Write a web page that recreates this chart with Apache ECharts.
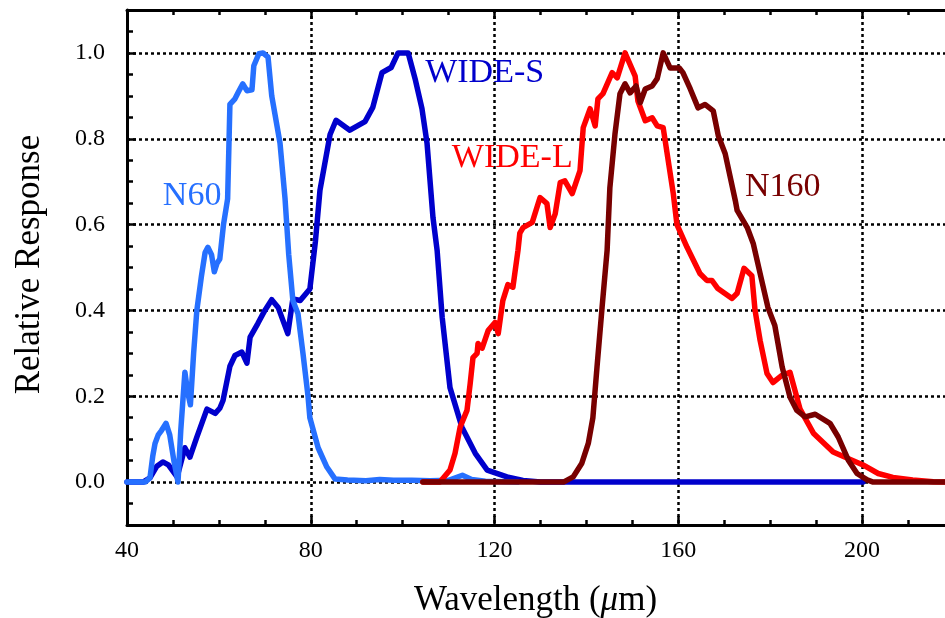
<!DOCTYPE html>
<html>
<head>
<meta charset="utf-8">
<title>Relative Response</title>
<script src="https://cdn.jsdelivr.net/npm/echarts@6/dist/echarts.min.js"></script>
<style>
  html, body { margin: 0; padding: 0; background: #ffffff; }
  #chart { width: 945px; height: 618px; }
</style>
</head>
<body>
<div id="chart"></div>
<script>
// Filter response curves: [wavelength (µm), relative response]
const n60 = [
  [40, 0], [44, 0], [45, 0.01], [45.6, 0.06], [46.1, 0.09], [46.8, 0.11], [47.5, 0.12],
  [48.5, 0.137], [49.3, 0.11], [50.2, 0.05], [51.1, 0.0], [51.7, 0.12], [52.6, 0.256],
  [53.2, 0.21], [53.8, 0.18], [54.5, 0.3], [55.2, 0.4], [56.2, 0.48], [57, 0.535],
  [57.6, 0.547], [58.4, 0.53], [59, 0.49], [59.6, 0.51], [60.2, 0.52], [61, 0.6],
  [61.9, 0.66], [62.4, 0.88], [63.5, 0.893], [64.3, 0.91], [65.2, 0.928], [66.1, 0.912],
  [67.2, 0.914], [67.6, 0.97], [68.7, 0.998], [69.6, 1.0], [70.7, 0.99], [71.5, 0.9],
  [73.3, 0.79], [74.4, 0.66], [75.2, 0.53], [76.1, 0.423], [77.2, 0.393], [78.3, 0.3],
  [79.4, 0.2], [79.8, 0.15], [81.6, 0.08], [83.5, 0.035], [85.3, 0.007], [88, 0.005],
  [92, 0.003], [95, 0.006], [98, 0.004], [102, 0.004], [106, 0.003], [110, 0.004],
  [113, 0.016], [115, 0.006], [118, 0.002], [125, 0]
];

const wideS = [
  [40, 0], [43.5, 0], [45, 0.01], [46.5, 0.037], [47.8, 0.047], [49, 0.04], [50.9, 0.012],
  [52.6, 0.08], [53.7, 0.058], [55.2, 0.105], [57.4, 0.17], [59.2, 0.16], [60.2, 0.172],
  [60.9, 0.19], [62.4, 0.27], [63.5, 0.295], [65, 0.303], [66.1, 0.277], [66.8, 0.338],
  [68.5, 0.37], [70, 0.4], [71.5, 0.425], [72.9, 0.407], [75, 0.346], [76.1, 0.427],
  [77.7, 0.423], [79.8, 0.45], [81, 0.56], [82, 0.68], [84.2, 0.81], [85.5, 0.843],
  [88.5, 0.82], [91.8, 0.84], [93.5, 0.873], [95.5, 0.954], [97.5, 0.966], [99, 1.0],
  [101.2, 1.0], [102.7, 0.94], [104.2, 0.87], [105.3, 0.79], [106.6, 0.616], [107.5, 0.54],
  [108.6, 0.384], [110.3, 0.22], [112.9, 0.128], [115.8, 0.067], [118.4, 0.028],
  [122.7, 0.012], [126.2, 0.004], [130, 0], [200.2, 0]
];

const wideL = [
  [104.4, 0], [108.1, 0], [110.3, 0.028], [111.4, 0.067], [112.5, 0.128], [114, 0.167],
  [114.7, 0.23], [115.3, 0.29], [116.2, 0.3], [116.4, 0.323], [117.3, 0.312], [118.6, 0.353],
  [120.1, 0.372], [120.8, 0.346], [121.8, 0.423], [122.9, 0.46], [124, 0.454], [125.1, 0.54],
  [125.5, 0.58], [126.2, 0.593], [128.2, 0.605], [129.9, 0.663], [131.4, 0.649],
  [132.1, 0.593], [133.2, 0.625], [134.3, 0.698], [135.3, 0.702], [136.9, 0.672],
  [138.6, 0.726], [139.3, 0.826], [140.8, 0.87], [141.9, 0.83], [142.5, 0.893],
  [143.6, 0.905], [145.6, 0.954], [146.7, 0.942], [148.4, 1.0], [150.6, 0.946],
  [151.2, 0.888], [152.8, 0.842], [154.3, 0.849], [155.4, 0.83], [156.7, 0.826],
  [158.9, 0.672], [159.7, 0.6], [161.9, 0.547], [164.7, 0.486], [166.2, 0.47],
  [167.3, 0.47], [168.6, 0.451], [171.7, 0.428], [172.8, 0.44], [174.3, 0.498],
  [176, 0.481], [176.7, 0.4], [177.8, 0.33], [179.3, 0.253], [180.6, 0.232],
  [182.6, 0.249], [184.3, 0.256], [186.5, 0.17], [189.4, 0.114], [193.7, 0.07],
  [196.7, 0.056], [200.2, 0.04], [203.5, 0.02], [206.7, 0.011], [211, 0.005],
  [215.5, 0.001], [220, 0]
];

const n160 = [
  [104.4, 0], [135, 0], [137.1, 0.012], [139, 0.044], [140.4, 0.09], [141.4, 0.15],
  [142.3, 0.268], [143.4, 0.407], [144.5, 0.54], [145.1, 0.686], [146.2, 0.81],
  [147.3, 0.905], [148.4, 0.928], [149.5, 0.907], [150.8, 0.923], [151.7, 0.884],
  [152.8, 0.916], [154.3, 0.923], [155.4, 0.94], [156.7, 1.0], [158.2, 0.965],
  [160.2, 0.965], [161, 0.954], [162.6, 0.916], [164.3, 0.872], [165.8, 0.88],
  [167.6, 0.865], [168.7, 0.807], [170.2, 0.765], [172.4, 0.656], [172.8, 0.633],
  [175, 0.593], [176.3, 0.556], [177.8, 0.486], [179.5, 0.407], [181, 0.365],
  [182.6, 0.268], [184.3, 0.198], [185.8, 0.167], [187.6, 0.152], [189.8, 0.158],
  [193, 0.137], [194.8, 0.105], [197, 0.051], [198.9, 0.02], [201.1, 0.005],
  [202.4, 0], [220, 0]
];

// Curve names, colours and where their labels sit (data coordinates)
const seriesNames = ['WIDE-S', 'N60', 'WIDE-L', 'N160'];
const seriesColors = ['#0000cc', '#2670ff', '#ff0000', '#780000'];
const seriesData = [wideS, n60, wideL, n160];
const labelAnchors = [[104.9, 0.954], [47.8, 0.667], [110.7, 0.754], [174.5, 0.688]];

const xTickLabels = [40, 80, 120, 160, 200];

const FONT = '"Liberation Serif", "DejaVu Serif", serif';

const chart = echarts.init(document.getElementById('chart'), null, { renderer: 'canvas' });

const dotted = { color: '#000', width: 2.5, type: [3, 3] };
const axisLine = { show: true, onZero: false, lineStyle: { color: '#000', width: 3 } };

const xCommon = {
  type: 'value',
  min: 40,
  max: 220,
  interval: 40,
  axisLine: axisLine,
  axisTick: { show: true, inside: true, length: 9, lineStyle: { color: '#000', width: 2.5 } },
  minorTick: { show: true, splitNumber: 4, length: 5, lineStyle: { color: '#000', width: 2.5 } }
};

const option = {
  animation: false,
  backgroundColor: '#ffffff',
  grid: {
    left: 127, right: -9, top: 10, bottom: 93,
    containLabel: false,
    outerBoundsMode: 'none'
  },
  xAxis: [
    Object.assign({}, xCommon, {
      position: 'bottom',
      name: '{n|Wavelength (}{mu|μ}{n|m)}',
      nameLocation: 'middle',
      nameGap: 58,
      nameTextStyle: {
        padding: [0, 10, 0, 0],
        rich: {
          n: { fontFamily: FONT, fontSize: 35, color: '#000' },
          mu: { fontFamily: FONT, fontSize: 35, fontStyle: 'italic', color: '#000' }
        }
      },
      axisLabel: {
        show: true, margin: 14, color: '#000', fontFamily: FONT, fontSize: 24,
        showMaxLabel: false,
        formatter: v => (xTickLabels.indexOf(v) >= 0 ? String(v) : '')
      },
      splitLine: { show: true, lineStyle: dotted }
    }),
    Object.assign({}, xCommon, {
      position: 'top',
      axisLabel: { show: false },
      splitLine: { show: false }
    })
  ],
  yAxis: [
    {
      type: 'value',
      min: -0.1,
      max: 1.1,
      splitNumber: 5,
      position: 'left',
      name: 'Relative Response',
      nameLocation: 'middle',
      nameGap: 80,
      nameTextStyle: { fontFamily: FONT, fontSize: 35, color: '#000', padding: [0, 0, 0, 6] },
      axisLine: axisLine,
      axisTick: { show: true, inside: true, length: 9, lineStyle: { color: '#000', width: 2.5 } },
      axisLabel: {
        show: true, margin: 22, color: '#000', fontFamily: FONT, fontSize: 24,
        showMinLabel: false, showMaxLabel: false,
        formatter: v => v.toFixed(1)
      },
      splitLine: { show: true, lineStyle: dotted }
    },
    {
      // finer inward ticks every 0.05 along the left edge
      type: 'value',
      min: -0.1,
      max: 1.1,
      interval: 0.05,
      position: 'left',
      axisLine: { show: false },
      axisTick: { show: true, inside: true, length: 6, lineStyle: { color: '#000', width: 2.5 } },
      axisLabel: { show: false },
      splitLine: { show: false }
    }
  ],
  series: seriesNames.map((name, i) => ({
    name: name,
    type: 'line',
    data: seriesData[i],
    xAxisIndex: 0,
    yAxisIndex: 0,
    showSymbol: false,
    symbol: 'none',
    smooth: false,
    clip: true,
    lineStyle: { color: seriesColors[i], width: 5.5, cap: 'round', join: 'round' },
    markPoint: {
      symbol: 'circle',
      symbolSize: 0,
      silent: true,
      data: [{
        coord: labelAnchors[i],
        label: {
          show: true,
          position: 'inside',
          align: 'left',
          verticalAlign: 'middle',
          formatter: name,
          fontFamily: FONT,
          fontSize: 34,
          color: seriesColors[i]
        }
      }]
    }
  }))
};

chart.setOption(option);
</script>
</body>
</html>
